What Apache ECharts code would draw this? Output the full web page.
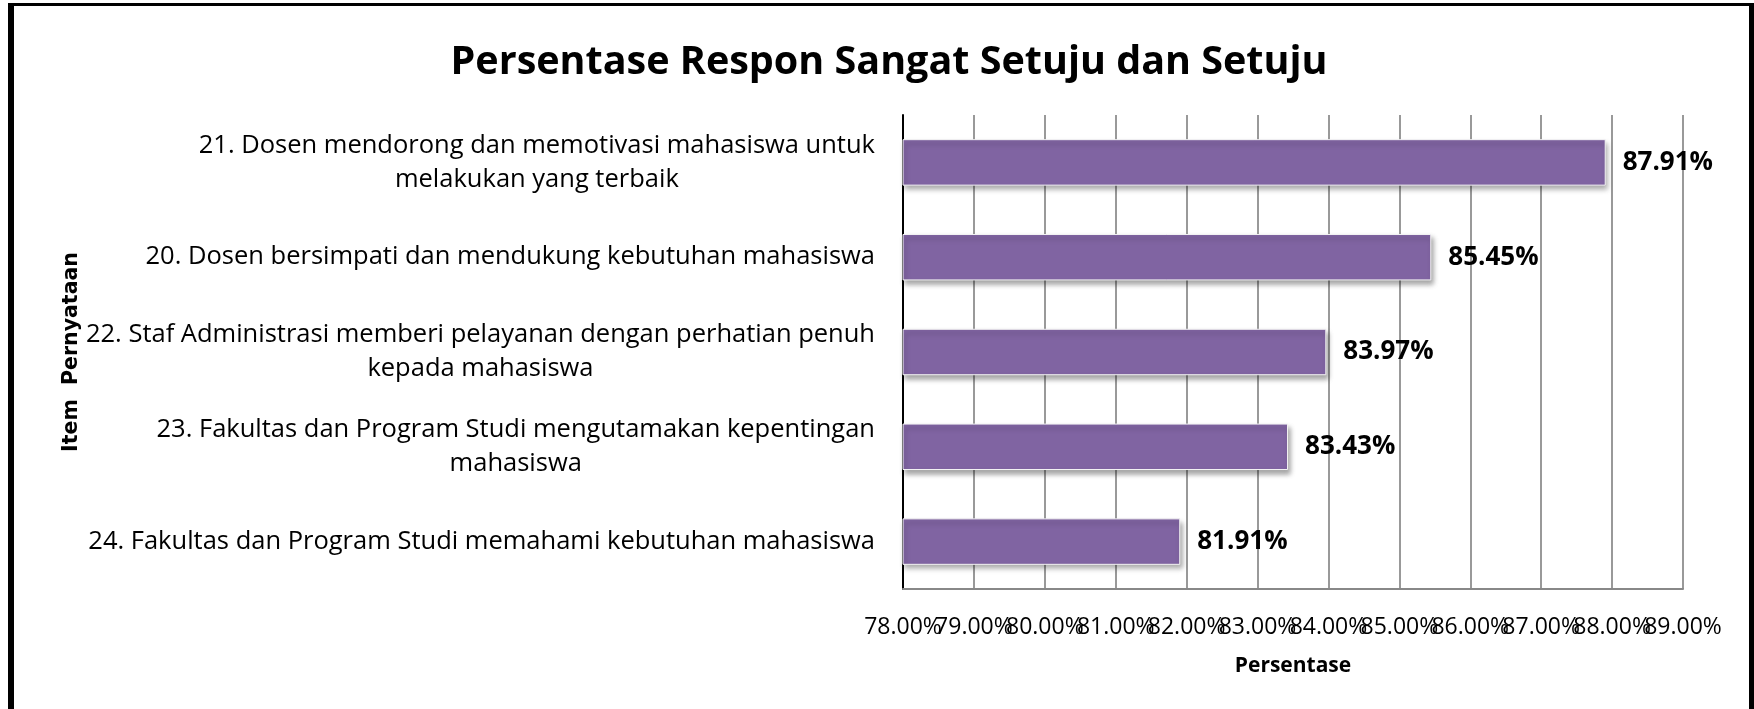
<!DOCTYPE html>
<html>
<head>
<meta charset="utf-8">
<script src="https://cdn.jsdelivr.net/npm/echarts@6/dist/echarts.min.js"></script>
<style>
  html, body { margin: 0; padding: 0; background: #fff; }
  #wrap { position: relative; width: 1754px; height: 709px; overflow: hidden; }
  #chart { position: absolute; left: 0; top: 0; width: 1754px; height: 709px; }
  #frame { position: absolute; left: 8px; top: 3px; right: 0; bottom: -20px;
           border-left: 6px solid #000; border-top: 3px solid #000; border-right: 5px solid #000;
           pointer-events: none; }
</style>
</head>
<body>
<div id="wrap"><div id="chart"></div><div id="frame"></div></div>
<script>
const titleText = 'Persentase Respon Sangat Setuju dan Setuju';
const categories = [
  '21. Dosen mendorong dan memotivasi mahasiswa untuk\nmelakukan yang terbaik',
  '20. Dosen bersimpati dan mendukung kebutuhan mahasiswa',
  '22. Staf Administrasi memberi pelayanan dengan perhatian penuh\nkepada mahasiswa',
  '23. Fakultas dan Program Studi mengutamakan kepentingan\nmahasiswa',
  '24. Fakultas dan Program Studi memahami kebutuhan mahasiswa'
];
const values = [87.91, 85.45, 83.97, 83.43, 81.91];
const xMin = 78, xMax = 89, xStep = 1;
const xTickLabels = ['78.00%', '79.00%', '80.00%', '81.00%', '82.00%', '83.00%',
                     '84.00%', '85.00%', '86.00%', '87.00%', '88.00%', '89.00%'];
const xAxisName = 'Persentase';
const yAxisName = 'Item  Pernyataan';

const FONT = '"Open Sans", "Noto Sans", sans-serif';
const chart = echarts.init(document.getElementById('chart'), null, { renderer: 'canvas' });
chart.setOption({
  animation: false,
  backgroundColor: '#fff',
  title: {
    text: titleText,
    left: 884, textAlign: 'center',
    top: 38,
    textStyle: { fontFamily: FONT, fontWeight: 'bold', fontSize: 39.5, color: '#000' }
  },
  grid: { left: 903, right: 71, top: 115, bottom: 120, containLabel: false },
  xAxis: [{
    type: 'value', min: xMin, max: xMax, interval: xStep,
    name: xAxisName, nameLocation: 'middle', nameGap: 67,
    nameTextStyle: { fontFamily: FONT, fontWeight: 'bold', fontSize: 21, color: '#000' },
    axisLine: { show: true, lineStyle: { color: '#888', width: 2 } },
    axisTick: { show: false },
    axisLabel: { show: false },
    splitLine: { show: true, lineStyle: { color: '#999', width: 2 } }
  }, {
    type: 'category', data: xTickLabels, boundaryGap: false, position: 'bottom',
    axisLine: { show: false }, axisTick: { show: false }, splitLine: { show: false },
    axisLabel: { interval: 0, margin: 27, fontFamily: FONT, fontSize: 23, color: '#000' }
  }],
  yAxis: {
    type: 'category', data: categories, inverse: true,
    name: yAxisName, nameLocation: 'middle', nameGap: 809, nameRotate: 90,
    nameTextStyle: { fontFamily: '"DejaVu Sans", sans-serif', fontWeight: 'bold', fontSize: 20.5, color: '#000' },
    axisLine: { show: true, lineStyle: { color: '#000', width: 2 } },
    axisTick: { show: false },
    axisLabel: {
      margin: 28, interval: 0,
      fontFamily: FONT, fontSize: 25.5, color: '#000', lineHeight: 34,
      formatter: v => v.split('\n').map(l => '{c|' + l + '}').join('\n'),
      rich: { c: { align: 'center', fontFamily: FONT, fontSize: 25.5, color: '#000', lineHeight: 34 } }
    },
    splitLine: { show: false }
  },
  series: [{
    type: 'bar',
    xAxisIndex: 0,
    data: values,
    barCategoryGap: '51%',
    itemStyle: {
      color: '#8064A2', borderColor: '#f4f4f4', borderWidth: 1,
      shadowColor: 'rgba(0,0,0,0.35)', shadowBlur: 5, shadowOffsetX: 2, shadowOffsetY: 4
    },
    label: {
      show: true, position: 'right', distance: 17,
      fontFamily: FONT, fontWeight: 'bold', fontSize: 26, color: '#000',
      formatter: p => p.value.toFixed(2) + '%'
    }
  }]
});
</script>
</body>
</html>
